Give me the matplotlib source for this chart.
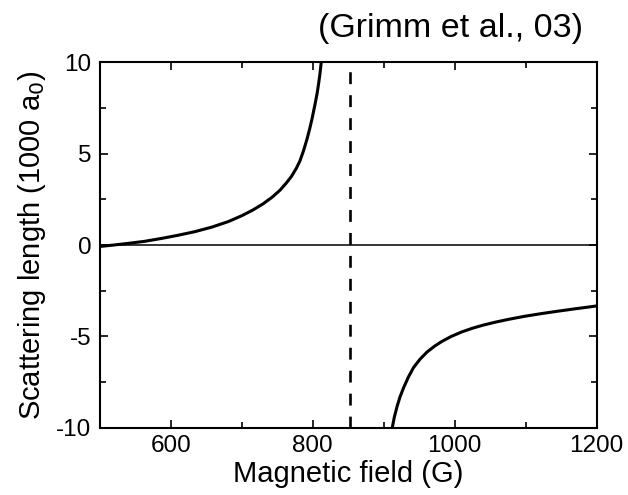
import matplotlib
matplotlib.use('Agg')
import matplotlib.pyplot as plt
from matplotlib.ticker import MultipleLocator

plt.rcParams['font.family'] = ['Liberation Sans', 'DejaVu Sans']
plt.rcParams['axes.unicode_minus'] = False

# scattering length, below the resonance
field_low = [500, 520, 540, 563, 587, 610, 634, 658, 681, 700, 716, 730, 743, 754,
             763, 770, 777, 782, 787, 792, 796, 799, 803, 806, 808, 810, 812, 813]
length_low = [-0.08, 0.0, 0.09, 0.2, 0.36, 0.53, 0.73, 0.98, 1.28, 1.6, 1.92, 2.25, 2.62, 3.0,
              3.4, 3.75, 4.2, 4.6, 5.15, 5.8, 6.4, 6.9, 7.65, 8.25, 8.75, 9.3, 10.0, 10.4]

# above the resonance
field_high = [911, 912, 915, 919, 923, 928, 935, 942, 951, 961, 972, 982, 995, 1010,
              1025, 1040, 1057, 1075, 1098, 1122, 1145, 1169, 1185, 1200]
length_high = [-10.2, -10.0, -9.4, -8.8, -8.3, -7.8, -7.2, -6.7, -6.25, -5.85, -5.52, -5.27, -5.0, -4.75,
               -4.55, -4.38, -4.22, -4.07, -3.9, -3.75, -3.62, -3.49, -3.41, -3.33]

resonance = 853
xlim = (500, 1200)
ylim = (-10, 10)
title = '(Grimm et al., 03)'

fig = plt.figure(figsize=(6.28, 4.95), dpi=100)
ax = fig.add_axes([0.159, 0.1354, 0.791, 0.7393])

ax.axhline(0, color='black', lw=1.1)
ax.axvline(resonance, color='black', lw=1.9, dashes=(4.5, 4.2))
ax.plot(field_low, length_low, color='black', lw=2.2)
ax.plot(field_high, length_high, color='black', lw=2.2)

ax.set_xlim(*xlim)
ax.set_ylim(*ylim)
ax.xaxis.set_major_locator(MultipleLocator(200))
ax.xaxis.set_minor_locator(MultipleLocator(100))
ax.yaxis.set_major_locator(MultipleLocator(5))
ax.yaxis.set_minor_locator(MultipleLocator(2.5))
ax.tick_params(which='both', direction='in', top=True, right=True, width=1.2)
ax.tick_params(which='major', length=6, labelsize=17.5)
ax.tick_params(which='minor', length=4)
ax.tick_params(axis='x', pad=5)
ax.tick_params(axis='y', pad=6)
for s in ax.spines.values():
    s.set_linewidth(1.5)

ax.set_xlabel('Magnetic field (G)', fontsize=21, labelpad=2)
ax.set_ylabel('Scattering length (1000 a$_0$)', fontsize=21, labelpad=6)

fig.text(583 / 628, 1 - 37 / 495, title, ha='right', va='baseline', fontsize=24.5)

fig.savefig('out.png', dpi=100)
